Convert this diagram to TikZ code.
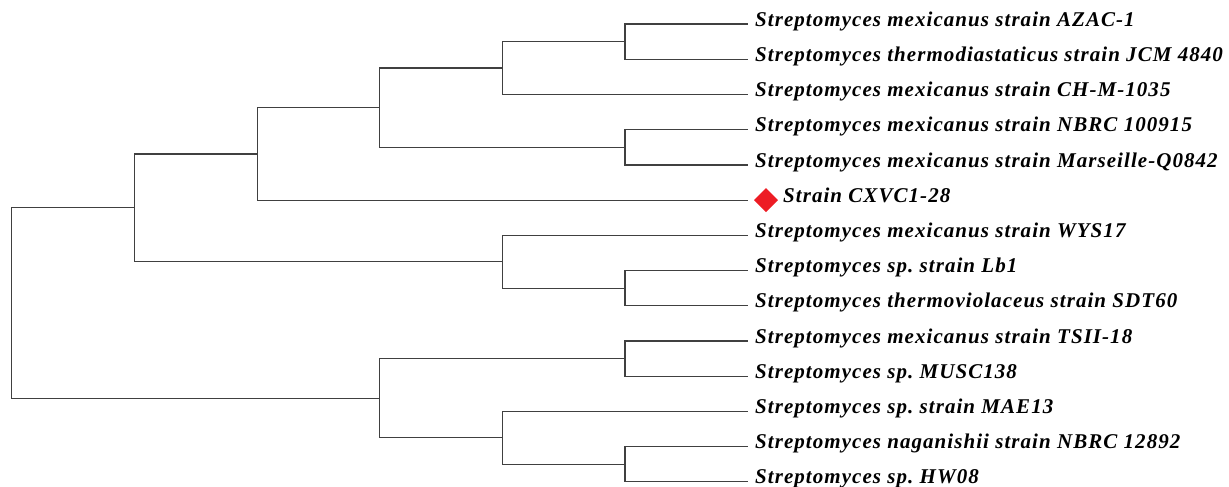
\documentclass[tikz,border=0pt]{standalone}
\usepackage{fontspec}
\setmainfont{Liberation Serif}
\newfontfamily\labelfont[LetterSpace=5]{Liberation Serif}
\usetikzlibrary{shapes.geometric}
\definecolor{branch}{HTML}{404040}
\definecolor{mark}{HTML}{ED1C24}
\frenchspacing
\tikzset{
  branchline/.style={draw=branch, line width=1.2pt},
  leaflabel/.style={anchor=mid west, inner sep=0pt, font=\labelfont\fontsize{21}{21}\selectfont\bfseries\itshape},
  markbox/.style={diamond, fill=mark, draw=none, minimum width=24pt, minimum height=24pt, inner sep=0pt}
}
\begin{document}
\begin{tikzpicture}[x=1pt,y=-1pt]
\useasboundingbox (0,0) rectangle (1229,487);
% leaf ends
\foreach \i/\y in {1/24,2/59.3,3/94.5,4/129.7,5/164.9,6/200.1,7/235.3,8/270.5,9/305.7,10/340.9,11/376.1,12/411.3,13/446.5,14/481.7}
  \coordinate (l\i) at (747.7,\y);
% internal nodes
\coordinate (A) at (625,41.7);
\coordinate (B) at (502.7,68);
\coordinate (C) at (625,147.3);
\coordinate (D) at (379.7,107.7);
\coordinate (E) at (257.7,154);
\coordinate (F) at (625,288.1);
\coordinate (G) at (502.7,261.7);
\coordinate (H) at (134.7,207.8);
\coordinate (I) at (625,358.5);
\coordinate (J) at (625,464.1);
\coordinate (K) at (502.7,437.7);
\coordinate (L) at (379.7,398.1);
\coordinate (R) at (11.3,303);
% branches
\draw[branchline] (l1) -| (A) |- (l2);
\draw[branchline] (A) -| (B) |- (l3);
\draw[branchline] (l4) -| (C) |- (l5);
\draw[branchline] (B) -| (D) |- (C);
\draw[branchline] (D) -| (E) |- (l6);
\draw[branchline] (l8) -| (F) |- (l9);
\draw[branchline] (l7) -| (G) |- (F);
\draw[branchline] (E) -| (H) |- (G);
\draw[branchline] (l10) -| (I) |- (l11);
\draw[branchline] (l13) -| (J) |- (l14);
\draw[branchline] (l12) -| (K) |- (J);
\draw[branchline] (I) -| (L) |- (K);
\draw[branchline] (H) -| (R) |- (L);
% labels
\node[leaflabel] (t1) at (755,24) {Streptomyces mexicanus strain AZAC-1};
\node[leaflabel] (t2) at (755,59.3) {Streptomyces thermodiastaticus strain JCM 4840};
\node[leaflabel] (t3) at (755,94.5) {Streptomyces mexicanus strain CH-M-1035};
\node[leaflabel] (t4) at (755,129.7) {Streptomyces mexicanus strain NBRC 100915};
\node[leaflabel] (t5) at (755,164.9) {Streptomyces mexicanus strain Marseille-Q0842};
\node[markbox] (m6) at (766,200.1) {};
\node[leaflabel] (t6) at (783,200.1) {Strain CXVC1-28};
\node[leaflabel] (t7) at (755,235.3) {Streptomyces mexicanus strain WYS17};
\node[leaflabel] (t8) at (755,270.5) {Streptomyces sp. strain Lb1};
\node[leaflabel] (t9) at (755,305.7) {Streptomyces thermoviolaceus strain SDT60};
\node[leaflabel] (t10) at (755,340.9) {Streptomyces mexicanus strain TSII-18};
\node[leaflabel] (t11) at (755,376.1) {Streptomyces sp. MUSC138};
\node[leaflabel] (t12) at (755,411.3) {Streptomyces sp. strain MAE13};
\node[leaflabel] (t13) at (755,446.5) {Streptomyces naganishii strain NBRC 12892};
\node[leaflabel] (t14) at (755,481.7) {Streptomyces sp. HW08};
\end{tikzpicture}
\end{document}
